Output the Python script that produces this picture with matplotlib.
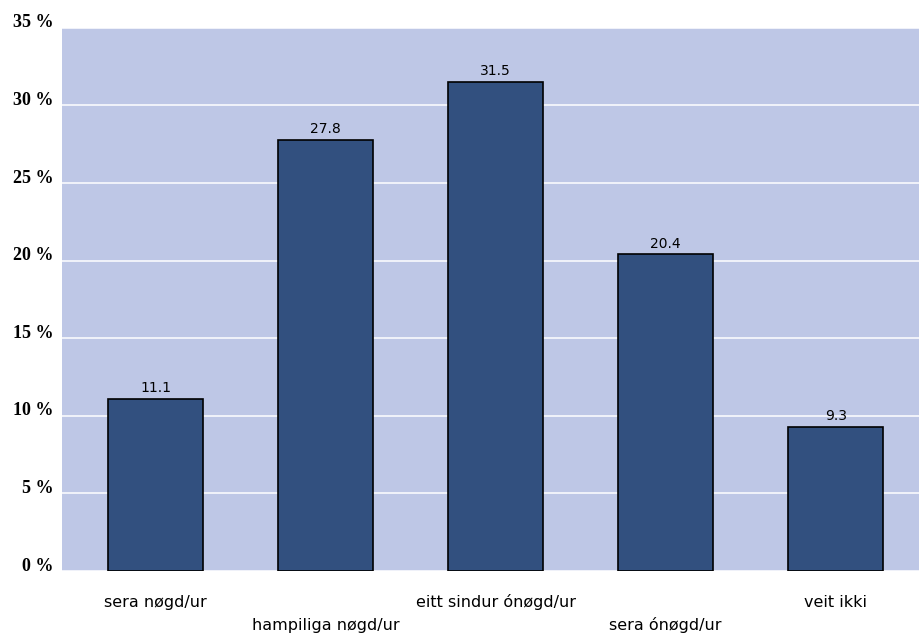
import numpy as np
import matplotlib.pyplot as plt
from matplotlib.transforms import ScaledTranslation

categories = ["sera nøgd/ur", "hampiliga nøgd/ur", "eitt sindur ónøgd/ur", "sera ónøgd/ur", "veit ikki"]
values = [11.1, 27.8, 31.5, 20.4, 9.3]
yticks = [0, 5, 10, 15, 20, 25, 30, 35]

fig = plt.figure(figsize=(9.19, 6.33), dpi=100)
ax = fig.add_axes([0.0675, 0.098, 0.9325, 0.858])
ax.set_facecolor("#bec7e6")

x = np.arange(len(categories))
ax.set_axisbelow(True)
ax.yaxis.grid(True, color="white", linewidth=1.1)
ax.bar(x, values, width=0.56, color="#32507f", edgecolor="black", linewidth=1.2)

for xi, v in zip(x, values):
    ax.text(xi, v + 0.25, f"{v:.1f}", ha="center", va="bottom", fontsize=10,
            family="DejaVu Sans")

ax.set_xlim(-0.55, 4.49)
ax.set_ylim(0, 35)
ax.set_yticks(yticks)
ax.set_yticklabels([f"{t} %" for t in yticks], family="Liberation Serif",
                   fontweight="bold", fontsize=13)
ax.tick_params(axis="y", length=0, pad=6)
# labels sit a bit above their gridlines
shift = ScaledTranslation(0, 5 / 72, fig.dpi_scale_trans)
for lab in ax.get_yticklabels():
    lab.set_transform(lab.get_transform() + shift)

ax.set_xticks(x)
ax.set_xticklabels([])
ax.tick_params(axis="x", length=0)
for xi, lab in zip(x, categories):
    off = 0.058 if xi % 2 == 0 else 0.1
    ax.text(xi, -off, lab, transform=ax.get_xaxis_transform(), ha="center",
            va="center", fontsize=11.5, family="DejaVu Sans")

for s in ax.spines.values():
    s.set_visible(False)

fig.savefig("out.png", dpi=100)
